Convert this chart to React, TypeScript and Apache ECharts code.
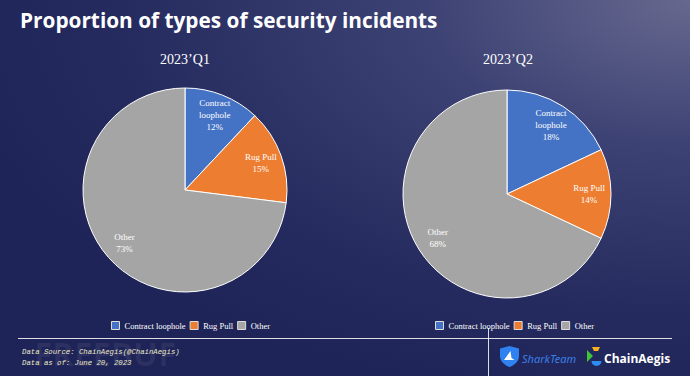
import React, { useEffect, useRef } from "react";
import * as echarts from "echarts";

const categories = ["Contract loophole", "Rug Pull", "Other"];
const q1Values = [12, 15, 73];
const q2Values = [18, 14, 68];
const periods = ["2023’Q1", "2023’Q2"];
const colors = ["#4472C4", "#ED7D31", "#A5A5A5"];
const footerLines = ["Data Source: ChainAegis(@ChainAegis)", "Data as of: June 20, 2023"];

const shieldPath =
  "M0,2.5 L9.5,0 L19,2.5 L19,10 C19,15.5 14.5,19 9.5,21 C4.5,19 0,15.5 0,10 Z";
const sailPath = "M4,14 L10.5,5 L11.5,12 L14.5,14 Z";

export default function App() {
  const ref = useRef<HTMLDivElement>(null);
  useEffect(() => {
    document.body.style.margin = "0";
    try {
      echarts.graphic.registerShape("shield", echarts.graphic.extendPath(shieldPath, {}));
      echarts.graphic.registerShape("sail", echarts.graphic.extendPath(sailPath, {}));
    } catch (e) {}
    const chart = echarts.init(ref.current!, null, { renderer: "svg" });
    const mk = (vals: number[]) => categories.map((n, i) => ({ name: n, value: vals[i] }));
    const pies = [
      { vals: q1Values, center: [185, 190], r: 102 },
      { vals: q2Values, center: [507, 194], r: 104 },
    ];
    const series: any[] = [];
    pies.forEach((p) => {
      series.push({
        type: "pie",
        center: p.center,
        radius: [0, p.r],
        startAngle: 90,
        clockwise: true,
        data: mk(p.vals),
        label: { show: false },
        labelLine: { show: false },
        itemStyle: { borderColor: "#ffffff", borderWidth: 1 },
        emphasis: { disabled: true },
        silent: true,
      });
    });
    pies.forEach((p) => {
      series.push({
        type: "pie",
        center: p.center,
        radius: [p.r * 0.52, p.r],
        startAngle: 90,
        clockwise: true,
        data: mk(p.vals),
        itemStyle: { color: "transparent", borderWidth: 0 },
        label: {
          show: true,
          position: "inside",
          color: "#ffffff",
          fontFamily: "Liberation Serif",
          fontSize: 9,
          lineHeight: 12,
          formatter: (d: any) =>
            (d.name === "Contract loophole" ? "Contract\nloophole" : d.name) + "\n" + d.value + "%",
        },
        labelLine: { show: false },
        emphasis: { disabled: true },
        silent: true,
      });
    });
    const legendBase = {
      data: categories,
      top: 316,
      itemWidth: 8,
      itemHeight: 8,
      itemGap: 4,
      icon: "rect",
      itemStyle: { borderColor: "#dddddd", borderWidth: 1 },
      textStyle: { color: "#ffffff", fontFamily: "Liberation Serif", fontSize: 8.5 },
      selectedMode: false,
    };
    chart.setOption({
      animation: false,
      backgroundColor: {
        type: "radial",
        x: 1,
        y: 0,
        r: 1.1,
        colorStops: [
          { offset: 0, color: "#66688e" },
          { offset: 0.35, color: "#3d4274" },
          { offset: 0.75, color: "#252b5e" },
          { offset: 1, color: "#1e2457" },
        ],
      },
      color: colors,
      title: [
        {
          text: "Proportion of types of security incidents",
          left: 20,
          top: 9,
          padding: 0,
          textStyle: { color: "#ffffff", fontFamily: "Open Sans", fontWeight: "bold", fontSize: 20.8 },
        },
        {
          text: periods[0],
          left: 185,
          top: 52,
          padding: 0,
          textAlign: "center",
          textStyle: { color: "#ffffff", fontFamily: "Liberation Serif", fontWeight: "normal", fontSize: 14 },
        },
        {
          text: periods[1],
          left: 508,
          top: 52,
          padding: 0,
          textAlign: "center",
          textStyle: { color: "#ffffff", fontFamily: "Liberation Serif", fontWeight: "normal", fontSize: 14 },
        },
      ],
      legend: [
        { ...legendBase, left: 106 },
        { ...legendBase, left: 430 },
      ],
      series,
      graphic: [
        {
          type: "text",
          x: 34,
          y: 353,
          silent: true,
          style: {
            text: "FREEBUF",
            fill: "rgba(255,255,255,0.06)",
            font: "bold 33px 'Open Sans'",
            textVerticalAlign: "middle",
          },
        },
        {
          type: "line",
          shape: { x1: 18, y1: 338.5, x2: 672, y2: 338.5 },
          style: { stroke: "rgba(255,255,255,0.85)", lineWidth: 1 },
        },
        {
          type: "line",
          shape: { x1: 488.5, y1: 328, x2: 488.5, y2: 376 },
          style: { stroke: "rgba(255,255,255,0.85)", lineWidth: 1 },
        },
        {
          type: "text",
          x: 22,
          y: 352,
          style: {
            text: footerLines[0],
            fill: "#ece8c8",
            font: "italic 7.3px 'Liberation Mono'",
            textVerticalAlign: "middle",
          },
        },
        {
          type: "text",
          x: 22,
          y: 363,
          style: {
            text: footerLines[1],
            fill: "#ece8c8",
            font: "italic 7.3px 'Liberation Mono'",
            textVerticalAlign: "middle",
          },
        },
        {
          type: "shield",
          x: 500,
          y: 346,
          style: { fill: "#2f82f0" },
        },
        {
          type: "sail",
          x: 500,
          y: 346,
          style: { fill: "#ffffff" },
        },
        {
          type: "text",
          x: 522,
          y: 358,
          style: {
            text: "SharkTeam",
            fill: "#3b7fe8",
            font: "italic 11px 'Noto Sans'",
            textVerticalAlign: "middle",
          },
        },
        {
          type: "polygon",
          shape: { points: [[587, 350], [593, 356], [587, 362]] },
          style: { fill: "#3fc43a" },
        },
        {
          type: "polygon",
          shape: { points: [[592, 347], [600, 347], [598, 351], [594, 351]] },
          style: { fill: "#f5b21c" },
        },
        {
          type: "sector",
          shape: { cx: 596.5, cy: 361, r: 5, r0: 0, startAngle: 0, endAngle: Math.PI },
          style: { fill: "#2c8cf0" },
        },
        {
          type: "text",
          x: 604,
          y: 358,
          style: {
            text: "ChainAegis",
            fill: "#ffffff",
            font: "bold 12px 'Open Sans'",
            textVerticalAlign: "middle",
          },
        },
      ],
    });
    return () => chart.dispose();
  }, []);
  return <div ref={ref} style={{ width: 690, height: 376 }} />;
}
